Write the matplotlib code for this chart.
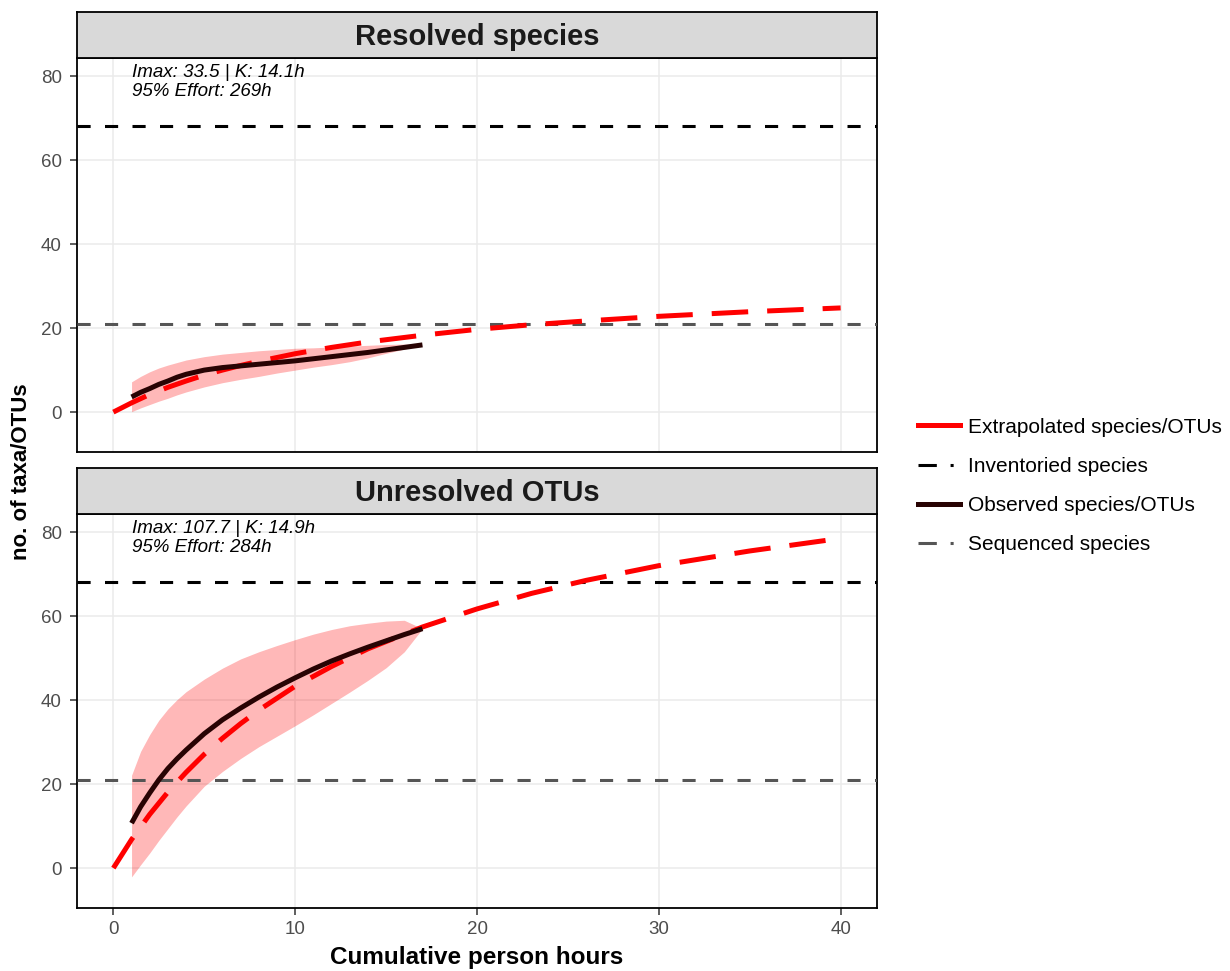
import matplotlib.pyplot as plt
from matplotlib.lines import Line2D

plt.rcParams['font.family'] = ['Liberation Sans', 'DejaVu Sans']

# fitted accumulation curves (extrapolated), per facet
extrap_hours = [0, 1, 2, 3, 4, 5, 6, 7, 8, 10, 12, 14, 17, 20, 23, 26, 30, 35, 40]
extrap_resolved = [0, 2.2, 4.2, 5.9, 7.4, 8.8, 10.0, 11.1, 12.1, 13.9, 15.4, 16.7,
                   18.3, 19.7, 20.8, 21.7, 22.8, 23.9, 24.8]
extrap_unresolved = [0, 6.8, 12.8, 18.1, 22.8, 27.1, 30.9, 34.4, 37.6, 43.3, 48.0, 52.2,
                     57.4, 61.7, 65.4, 68.5, 72.0, 75.5, 78.5]

# observed accumulation with its confidence band
obs_hours = [1, 1.5, 2, 2.5, 3, 3.5, 4, 5, 6, 7, 8, 9, 10, 11, 12, 13, 14, 15, 16, 17]
obs_resolved = [3.6, 4.7, 5.6, 6.6, 7.4, 8.3, 9.0, 10.0, 10.6, 11.0, 11.4, 11.8, 12.2,
                12.7, 13.2, 13.7, 14.2, 14.8, 15.4, 16.0]
lo_resolved = [0.1, 1.0, 1.8, 2.6, 3.3, 4.1, 4.8, 6.0, 7.0, 7.8, 8.5, 9.3, 10.0, 10.7,
               11.3, 12.0, 12.9, 14.0, 15.0, 16.0]
hi_resolved = [7.2, 8.5, 9.6, 10.5, 11.2, 11.8, 12.4, 13.2, 13.8, 14.2, 14.6, 14.9, 15.2,
               15.3, 15.5, 15.7, 15.9, 16.1, 16.2, 16.0]
obs_unresolved = [10.7, 14.6, 17.9, 21.0, 23.7, 26.0, 28.1, 32.0, 35.3, 38.1, 40.7, 43.1,
                  45.3, 47.4, 49.3, 51.0, 52.6, 54.1, 55.6, 57.0]
lo_unresolved = [-2.1, 0.8, 3.6, 6.6, 9.4, 12.2, 14.8, 19.5, 23.0, 26.1, 28.9, 31.4,
                 33.9, 36.5, 39.2, 41.9, 44.7, 47.7, 51.5, 57.0]
hi_unresolved = [22.1, 27.8, 31.8, 35.2, 37.9, 40.1, 42.0, 45.0, 47.6, 49.8, 51.5, 53.0,
                 54.4, 55.7, 56.8, 57.7, 58.3, 58.8, 59.0, 57.0]

inventoried = 68
sequenced = 21

facets = ['Resolved species', 'Unresolved OTUs']
fit_labels = ['Imax: 33.5 | K: 14.1h\n95% Effort: 269h',
              'Imax: 107.7 | K: 14.9h\n95% Effort: 284h']

RED = '#FF0000'
OBS = '#280303'
SEQ = '#555555'
W, H = 1230, 971

fig = plt.figure(figsize=(W / 100, H / 100), dpi=100)


def fx(px):
    return px / W


def fy(py):
    return 1 - py / H


panels = [
    (58, 452, 12, extrap_resolved, obs_resolved, lo_resolved, hi_resolved),
    (514, 908, 468, extrap_unresolved, obs_unresolved, lo_unresolved, hi_unresolved),
]

for i, (top, bot, strip_top, ext, obs, lo, hi) in enumerate(panels):
    left, right = 77, 877
    ax = fig.add_axes([fx(left), fy(bot), fx(right - left), fy(top) - fy(bot)])
    ax.set_xlim(-2, 42)
    ax.set_ylim(-9.5, 84.3)
    ax.set_xticks([0, 10, 20, 30, 40])
    ax.set_yticks([0, 20, 40, 60, 80])
    ax.grid(True, color='#EBEBEB', lw=1.1)
    ax.set_axisbelow(True)
    for s in ax.spines.values():
        s.set_color('black')
        s.set_linewidth(1.3)
    ax.tick_params(length=5, width=1.1, color='#333333', labelcolor='#4D4D4D',
                   labelsize=13.5, pad=4)
    ax.tick_params(axis='y', pad=6)
    if i == 0:
        ax.tick_params(axis='x', labelbottom=False, length=0)

    ax.fill_between(obs_hours, lo, hi, color=RED, alpha=0.28, lw=0, zorder=2)
    ax.axhline(inventoried, color='black', lw=2.2, dashes=(4.3, 4.7), zorder=3)
    ax.axhline(sequenced, color=SEQ, lw=2.2, dashes=(4.3, 4.7), zorder=3)
    ax.plot(extrap_hours, ext, color=RED, lw=3.6, dashes=(7.3, 3.8), zorder=4)
    ax.plot(obs_hours, obs, color=OBS, lw=3.6, solid_capstyle='butt', zorder=5)

    ax.text(1, 82.8, fit_labels[i], style='italic', fontsize=13.5, va='top',
            ha='left', linespacing=1.15, color='black')

    # facet strip
    sax = fig.add_axes([fx(left), fy(top), fx(right - left), fy(strip_top) - fy(top)])
    sax.set_facecolor('#D9D9D9')
    sax.set_xticks([])
    sax.set_yticks([])
    for s in sax.spines.values():
        s.set_color('black')
        s.set_linewidth(1.3)
    sax.text(0.5, 0.45, facets[i], transform=sax.transAxes, ha='center', va='center',
             fontsize=21, fontweight='bold', color='#1A1A1A')

fig.text(fx(477), fy(957), 'Cumulative person hours', ha='center', va='center',
         fontsize=17.5, fontweight='bold')
fig.text(fx(22), fy(472), 'no. of taxa/OTUs', ha='center', va='center',
         rotation=90, fontsize=16, fontweight='bold')

handles = [
    Line2D([], [], color=RED, lw=3.6),
    Line2D([], [], color='black', lw=2.2, dashes=(6, 4.5, 1, 10)),
    Line2D([], [], color=OBS, lw=3.6),
    Line2D([], [], color=SEQ, lw=2.2, dashes=(6, 4.5, 1, 10)),
]
labels = ['Extrapolated species/OTUs', 'Inventoried species',
          'Observed species/OTUs', 'Sequenced species']
fig.legend(handles, labels, loc='center left', bbox_to_anchor=(fx(918), fy(486)),
           frameon=False, fontsize=15, handlelength=2.0, handletextpad=0.4,
           labelspacing=0.97, borderpad=0, borderaxespad=0)

fig.savefig('out.png', dpi=100)
